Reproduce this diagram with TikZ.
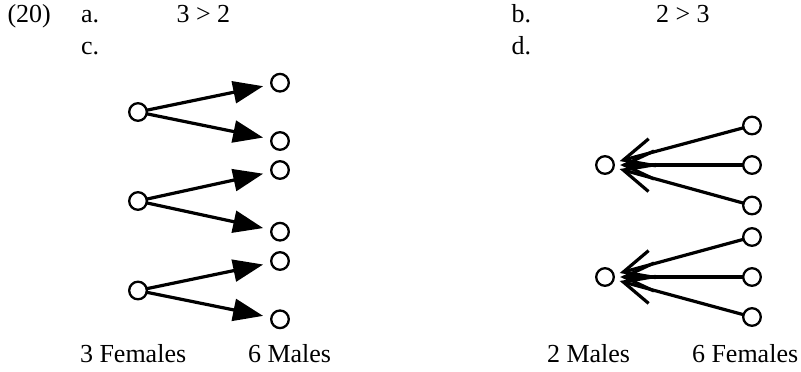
\documentclass[tikz,border=0pt]{standalone}
\usepackage{fontspec}
\setmainfont{Liberation Serif}
\usetikzlibrary{arrows.meta}
\begin{document}
\begin{tikzpicture}[x=0.5pt,y=-0.5pt,
  dot/.style={circle,draw,line width=1.15pt,minimum size=8.8pt,inner sep=0pt,outer sep=0pt},
  lbl/.style={anchor=base west,inner sep=0pt,outer sep=0pt,font=\fontsize{13pt}{15pt}\selectfont},
  fwd/.style={line width=1.6pt,-{Triangle[length=15pt,width=11pt]},shorten >=4.2pt},
  bwd/.style={line width=1.6pt,-{Straight Barb[length=15pt,width=14pt,line cap=butt,line join=miter]},shorten >=3.2pt}]
\useasboundingbox (0,0) rectangle (801,371);
% header texts
\node[lbl] (num) at (7.5,22.7) {(20)};
\node[lbl] (la) at (81,22.7) {a.};
\node[lbl] (ta) at (176.5,22.7) {3 > 2};
\node[lbl] (lb) at (511.5,22.7) {b.};
\node[lbl] (tb) at (656,22.7) {2 > 3};
\node[lbl] (lc) at (81,54) {c.};
\node[lbl] (ld) at (511.5,54) {d.};
% left diagram
\node[dot] (f1) at (138,112) {};
\node[dot] (f2) at (138,201) {};
\node[dot] (f3) at (138,290.5) {};
\node[dot] (m1) at (280,82.7) {};
\node[dot] (m2) at (280,141) {};
\node[dot] (m3) at (280,170) {};
\node[dot] (m4) at (280,231.7) {};
\node[dot] (m5) at (280,261) {};
\node[dot] (m6) at (280,319.3) {};
\draw[fwd] (f1) -- (m1);
\draw[fwd] (f1) -- (m2);
\draw[fwd] (f2) -- (m3);
\draw[fwd] (f2) -- (m4);
\draw[fwd] (f3) -- (m5);
\draw[fwd] (f3) -- (m6);
% right diagram
\node[dot] (r1) at (605,165) {};
\node[dot] (r2) at (605,277) {};
\node[dot] (g1) at (752,125.5) {};
\node[dot] (g2) at (752,165) {};
\node[dot] (g3) at (752,205.5) {};
\node[dot] (g4) at (752,237) {};
\node[dot] (g5) at (752,277) {};
\node[dot] (g6) at (752,317) {};
\draw[bwd] (g1) -- (r1);
\draw[bwd] (g2) -- (r1);
\draw[bwd] (g3) -- (r1);
\draw[bwd] (g4) -- (r2);
\draw[bwd] (g5) -- (r2);
\draw[bwd] (g6) -- (r2);
% bottom labels
\node[lbl] (tf) at (80,362) {3 Females};
\node[lbl] (tm) at (248,362) {6 Males};
\node[lbl] (bm) at (547,362) {2 Males};
\node[lbl] (bf) at (692,362) {6 Females};
\end{tikzpicture}
\end{document}
